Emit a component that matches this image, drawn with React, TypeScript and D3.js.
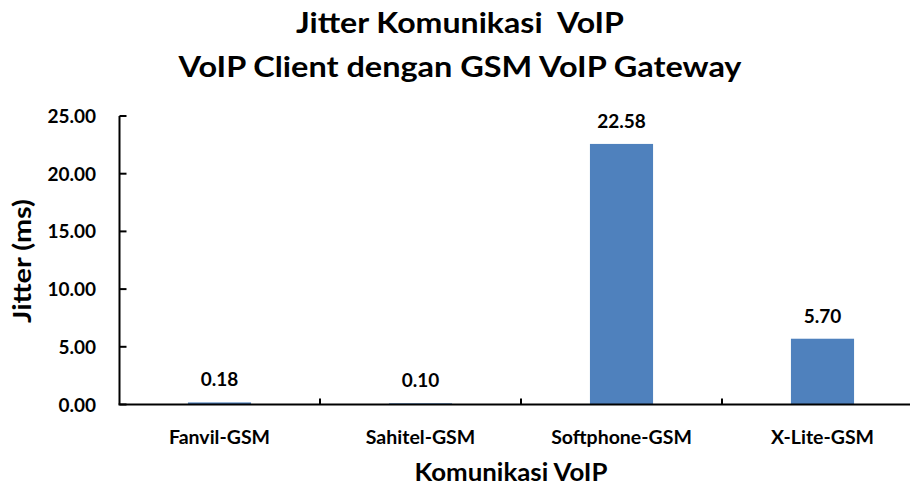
import React from "react";
import * as d3 from "d3";

const categories = ["Fanvil-GSM", "Sahitel-GSM", "Softphone-GSM", "X-Lite-GSM"];
const jitterValues = [0.18, 0.1, 22.58, 5.7];
const yTicks = [0, 5, 10, 15, 20, 25];
const titleLines = ["Jitter Komunikasi  VoIP", "VoIP Client dengan GSM VoIP Gateway"];
const xTitle = "Komunikasi VoIP";
const yTitle = "Jitter (ms)";

const W = 910;
const H = 486;
const FONT = "Lato, 'Open Sans', sans-serif";

export default function App() {
  const x = d3.scaleBand<string>().domain(categories).range([119, 923]).padding(0);
  const y = d3.scaleLinear().domain([0, 25]).range([404.5, 116]);
  const barW = x.bandwidth() * 0.314;
  const boundaries = categories.map((c) => x(c)!).concat([x.range()[1]]);

  return (
    <svg width={W} height={H} style={{ position: "absolute", left: 0, top: 0, background: "#fff" }}>
      <rect width={W} height={H} fill="#fff" />
      {/* titles */}
      <text x={460} y={33} textAnchor="middle" fontFamily={FONT} fontWeight={700} fontSize={29} fill="#000" textLength={328} lengthAdjust="spacingAndGlyphs" style={{ whiteSpace: "pre" }}>
        {titleLines[0]}
      </text>
      <text x={460} y={77} textAnchor="middle" fontFamily={FONT} fontWeight={700} fontSize={29} fill="#000" textLength={563} lengthAdjust="spacingAndGlyphs">
        {titleLines[1]}
      </text>

      {/* bars */}
      {categories.map((c, i) => {
        const cx = x(c)! + x.bandwidth() / 2;
        return (
          <g key={c}>
            <rect x={cx - barW / 2} y={y(jitterValues[i])} width={barW} height={y(0) - y(jitterValues[i])} fill="#4F81BD" />
            <text x={cx} y={y(jitterValues[i]) - 16} textAnchor="middle" fontFamily={FONT} fontWeight={700} fontSize={19} fill="#000">
              {jitterValues[i].toFixed(2)}
            </text>
            <text x={cx} y={444} textAnchor="middle" fontFamily={FONT} fontWeight={700} fontSize={19.5} fill="#000">
              {c}
            </text>
          </g>
        );
      })}

      {/* y axis */}
      <line x1={119.5} x2={119.5} y1={y(25)} y2={y(0)} stroke="#000" strokeWidth={2} />
      {yTicks.map((t) => (
        <g key={t}>
          <line x1={119.5} x2={126.5} y1={y(t)} y2={y(t)} stroke="#000" strokeWidth={2} />
          <text x={96} y={y(t) + 7} textAnchor="end" fontFamily={FONT} fontWeight={700} fontSize={19} fill="#000">
            {t.toFixed(2)}
          </text>
        </g>
      ))}

      {/* x axis */}
      <line x1={118.5} x2={923} y1={y(0)} y2={y(0)} stroke="#000" strokeWidth={2} />
      {boundaries.slice(1).map((b, i) => (
        <line key={i} x1={b} x2={b} y1={y(0)} y2={y(0) - 6} stroke="#000" strokeWidth={2} />
      ))}

      {/* axis titles */}
      <text x={511} y={481} textAnchor="middle" fontFamily={FONT} fontWeight={700} fontSize={24} fill="#000" textLength={193} lengthAdjust="spacingAndGlyphs">
        {xTitle}
      </text>
      <text transform={`translate(31,261) rotate(-90)`} textAnchor="middle" fontFamily={FONT} fontWeight={700} fontSize={24} fill="#000" textLength={124} lengthAdjust="spacingAndGlyphs">
        {yTitle}
      </text>
    </svg>
  );
}
